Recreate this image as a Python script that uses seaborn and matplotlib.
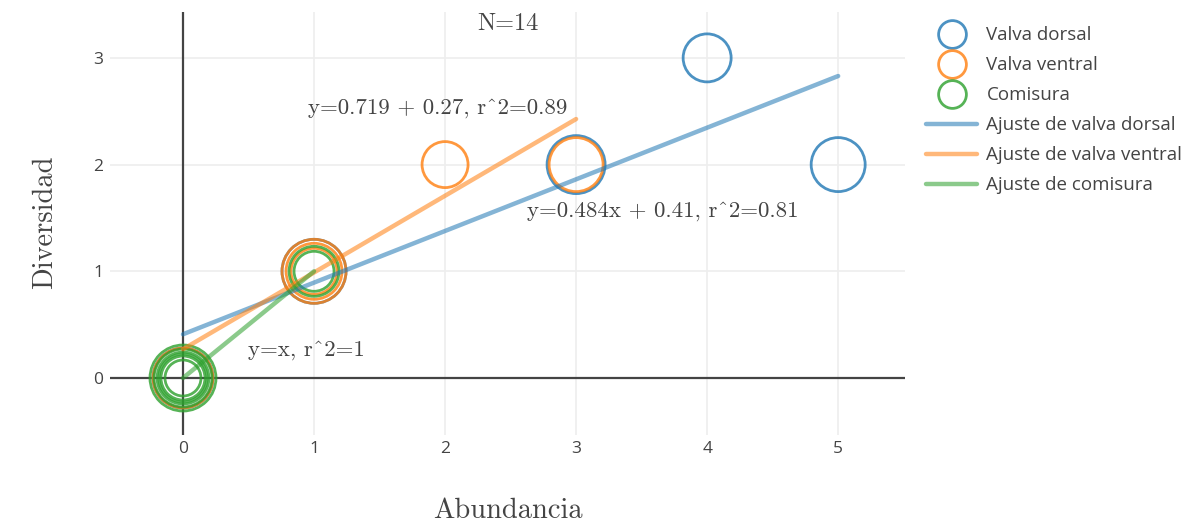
import numpy as np
import pandas as pd
import matplotlib
matplotlib.use("Agg")
import matplotlib.pyplot as plt
from matplotlib.lines import Line2D
import seaborn as sns

# ---------------- data ----------------
dorsal_x = [0, 1, 3, 4, 5]
dorsal_y = [0, 1, 2, 3, 2]
dorsal_r = [30, 32, 29, 24, 27]          # bubble radius (px)

ventral_x = [0, 1, 1, 1, 2, 3]
ventral_y = [0, 1, 1, 1, 2, 2]
ventral_r = [30, 32, 28, 23, 23, 27]

comisura_x = [0, 0, 0, 0, 0, 0, 1, 1]
comisura_y = [0, 0, 0, 0, 0, 0, 1, 1]
comisura_r = [33, 29, 26, 24, 22, 18, 25, 20]

fit_dorsal = (0.484, 0.41, 0, 5)     # slope, intercept, x from, x to
fit_ventral = (0.719, 0.27, 0, 3)
fit_comisura = (1.0, 0.0, 0, 1)

series_names = ["Valva dorsal", "Valva ventral", "Comisura"]
fit_names = ["Ajuste de valva dorsal", "Ajuste de valva ventral", "Ajuste de comisura"]
x_ticks = [0, 1, 2, 3, 4, 5]
y_ticks = [0, 1, 2, 3]
n_label = "N=14"
eq_labels = ["y=0.484x + 0.41, r^2=0.81", "y=0.719 + 0.27, r^2=0.89", "y=x, r^2=1"]

# ---------------- style ----------------
sns.set_theme(style="white")
plt.rcParams['font.family'] = ['Open Sans', 'DejaVu Sans']

c_blue = "#1f77b4"
c_orange = "#ff7f0e"
c_green = "#2ca02c"
colors = [c_blue, c_orange, c_green]
tick_col = "#444444"
serif = ['cmr10', 'DejaVu Serif']

fig = plt.figure(figsize=(11.99, 5.29), dpi=100)
ax = fig.add_axes([110/1199, 1 - 435/529, (905-110)/1199, (435-12)/529])

ax.set_xlim(-0.557, 5.51)
ax.set_ylim(-0.534, 3.43)

# grid
for t in x_ticks[1:]:
    ax.axvline(t, color="#eeeeee", lw=1.2, zorder=0)
for t in y_ticks[1:]:
    ax.axhline(t, color="#eeeeee", lw=1.2, zorder=0)
# zero lines
ax.axvline(0, color=tick_col, lw=1.6, zorder=1)
ax.axhline(0, color=tick_col, lw=1.6, zorder=1)

def r_to_s(r):
    return [(2 * v * 0.72) ** 2 for v in r]

pts = [
    (dorsal_x, dorsal_y, dorsal_r),
    (ventral_x, ventral_y, ventral_r),
    (comisura_x, comisura_y, comisura_r),
]
for (xs, ys, rs), col in zip(pts, colors):
    df = pd.DataFrame({"x": xs, "y": ys})
    sns.scatterplot(data=df, x="x", y="y", ax=ax, s=r_to_s(rs),
                    facecolors="none", edgecolor=col, linewidth=2.0,
                    alpha=0.8, zorder=3, legend=False)

for (m, b, x0, x1), col in zip([fit_dorsal, fit_ventral, fit_comisura], colors):
    xs = np.array([x0, x1], dtype=float)
    df = pd.DataFrame({"x": xs, "y": m * xs + b})
    sns.lineplot(data=df, x="x", y="y", ax=ax, color=col, lw=3.2,
                 alpha=0.55, zorder=4, legend=False)

# annotations
txt_kw = dict(ha="center", va="center", color="#444444", fontsize=16.5,
              family=serif, zorder=5)
ax.text(2.48, 3.32, n_label, **{**txt_kw, "fontsize": 17.5})
ax.text(3.66, 1.565, eq_labels[0], **txt_kw)
ax.text(1.94, 2.53, eq_labels[1], **txt_kw)
ax.text(0.94, 0.26, eq_labels[2], **txt_kw)

# axes
for sp in ax.spines.values():
    sp.set_visible(False)
ax.set_xticks(x_ticks)
ax.set_yticks(y_ticks)
ax.set_xticklabels([str(t) for t in x_ticks])
ax.set_yticklabels([str(t) for t in y_ticks])
ax.tick_params(axis="both", length=0, labelsize=12.5, labelcolor=tick_col)
ax.tick_params(axis="x", pad=4)
ax.tick_params(axis="y", pad=5)
ax.set_xlabel("Abundancia", family=serif, fontsize=20.5, color="#444444")
ax.set_ylabel("Diversidad", family=serif, fontsize=20.5, color="#444444")
ax.xaxis.set_label_coords((508-110)/795, (435-511)/423)
ax.yaxis.set_label_coords((45-110)/795, (435-222)/423)
ax.xaxis.label.set_va("center")
ax.yaxis.label.set_va("center")

# legend
handles = []
for name, col in zip(series_names, colors):
    handles.append(Line2D([], [], ls="none", marker="o", markersize=20,
                          markerfacecolor="none", markeredgecolor=col,
                          markeredgewidth=2, alpha=0.8, label=name))
for name, col in zip(fit_names, colors):
    handles.append(Line2D([], [], color=col, lw=3.2, alpha=0.55, label=name))
leg = fig.legend(handles=handles, loc="upper left", bbox_to_anchor=(919/1199, 1 - 19/529),
                 frameon=False, fontsize=13.5, handlelength=2.7, handletextpad=0.5,
                 labelspacing=0.64, borderaxespad=0)
for t in leg.get_texts():
    t.set_color("#444444")

fig.savefig("out.png", dpi=100)
